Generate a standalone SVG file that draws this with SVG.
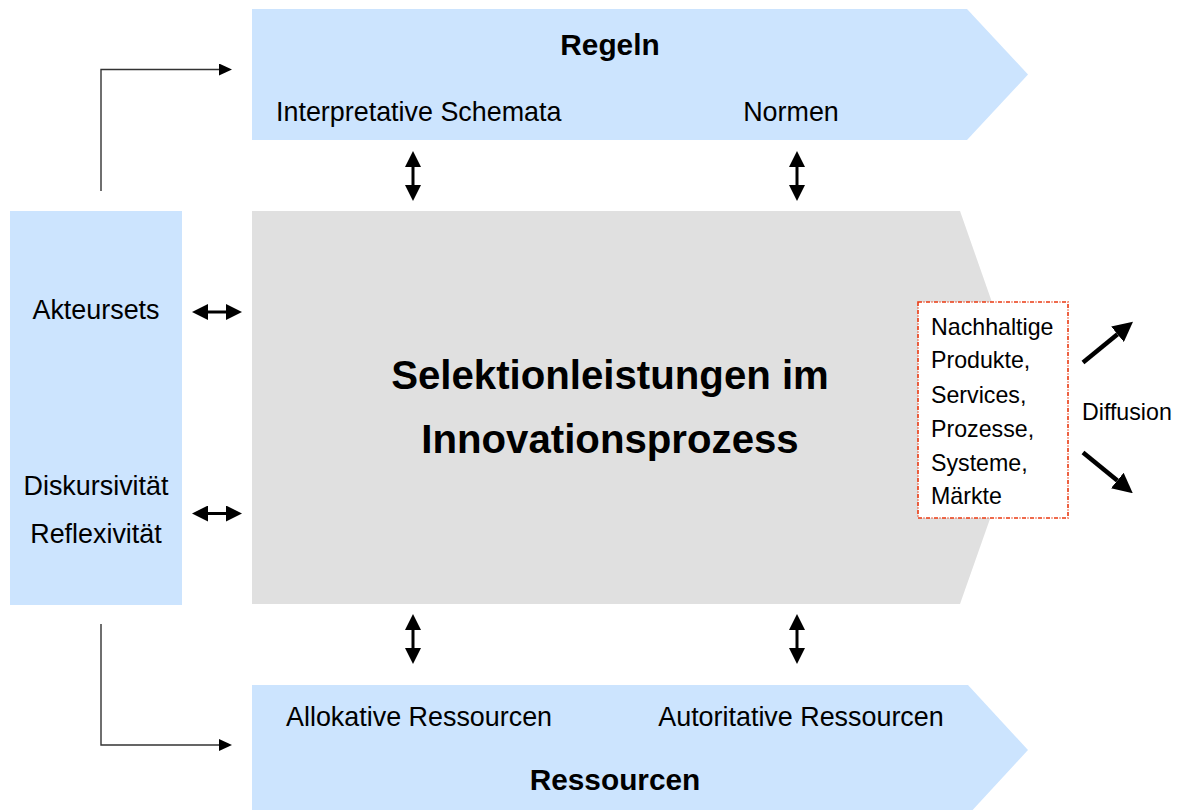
<svg xmlns="http://www.w3.org/2000/svg" width="1180" height="810" viewBox="0 0 1180 810">
  <style>
    .blue { fill: #cce4fe; }
    .grey { fill: #e0e0e0; }
    text { font-family: "Liberation Sans", Arial, sans-serif; fill: #000; }
    .lbl { font-size: 26.9px; }
    .head { font-size: 29.8px; font-weight: bold; }
    .title { font-size: 40.2px; font-weight: bold; }
    .small { font-size: 23.2px; }
    .dbl { stroke: #000; stroke-width: 3; fill: none; }
    .elbow { stroke: #333; stroke-width: 1.4; fill: none; }
    .diff { stroke: #000; stroke-width: 4.5; fill: none; }
  </style>
  <defs>
    <marker id="tri" markerUnits="userSpaceOnUse" markerWidth="16" markerHeight="16" refX="0" refY="8" orient="auto-start-reverse" viewBox="0 0 16 16">
      <path d="M0,0 L16,8 L0,16 z" fill="#000"/>
    </marker>
    <marker id="tri-s" markerUnits="userSpaceOnUse" markerWidth="13" markerHeight="12" refX="0" refY="6" orient="auto" viewBox="0 0 13 12">
      <path d="M0,0 L13,6 L0,12 z" fill="#000"/>
    </marker>
    <marker id="tri-l" markerUnits="userSpaceOnUse" markerWidth="20" markerHeight="20" refX="0" refY="10" orient="auto" viewBox="0 0 20 20">
      <path d="M0,0 L20,10 L0,20 z" fill="#000"/>
    </marker>
  </defs>

  <rect width="1180" height="810" fill="#fff"/>

  <!-- Rules band -->
  <g id="regeln">
    <polygon class="blue" points="252,9 967,9 1028,74.5 967,140 252,140"/>
    <text class="head" x="610" y="55" text-anchor="middle">Regeln</text>
    <text class="lbl" x="276" y="121">Interpretative Schemata</text>
    <text class="lbl" x="791" y="121" text-anchor="middle">Normen</text>
  </g>

  <!-- Actors column -->
  <g id="akteure">
    <rect class="blue" x="10" y="211" width="172" height="394"/>
    <text class="lbl" x="96" y="319" text-anchor="middle">Akteursets</text>
    <text class="lbl" x="96" y="495" text-anchor="middle">Diskursivität</text>
    <text class="lbl" x="96" y="543" text-anchor="middle">Reflexivität</text>
  </g>

  <!-- Central process -->
  <g id="selektion">
    <polygon class="grey" points="252,211 960,211 1029,408 960,604 252,604"/>
    <text class="title" x="610" y="389" text-anchor="middle">Selektionleistungen im</text>
    <text class="title" x="610" y="453" text-anchor="middle">Innovationsprozess</text>
  </g>

  <!-- Outcomes -->
  <g id="ergebnisse">
    <rect x="918" y="302" width="150" height="216" fill="#fff" stroke="#ea3a12" stroke-width="1.6" stroke-dasharray="4,1.5,1,1.5"/>
    <text class="small" x="931" y="335">Nachhaltige</text>
    <text class="small" x="931" y="368">Produkte,</text>
    <text class="small" x="931" y="403">Services,</text>
    <text class="small" x="931" y="437">Prozesse,</text>
    <text class="small" x="931" y="471">Systeme,</text>
    <text class="small" x="931" y="504">Märkte</text>
  </g>

  <g id="diffusion">
    <text class="small" x="1082" y="420">Diffusion</text>
  </g>

  <!-- Resources band -->
  <g id="ressourcen">
    <polygon class="blue" points="252,685 968,685 1028,750 968,815 252,815"/>
    <text class="lbl" x="286" y="726">Allokative Ressourcen</text>
    <text class="lbl" x="801" y="726" text-anchor="middle">Autoritative Ressourcen</text>
    <text class="head" x="615" y="790" text-anchor="middle">Ressourcen</text>
  </g>

  <!-- Connectors -->
  <g id="connectors">
    <!-- actors to rules / resources -->
    <path class="elbow" d="M101,191 V69.5 H219" marker-end="url(#tri-s)"/>
    <path class="elbow" d="M101,624 V745 H219" marker-end="url(#tri-s)"/>

    <!-- rules <-> process -->
    <line class="dbl" x1="413" y1="167" x2="413" y2="185" marker-start="url(#tri)" marker-end="url(#tri)"/>
    <line class="dbl" x1="797" y1="167" x2="797" y2="185" marker-start="url(#tri)" marker-end="url(#tri)"/>

    <!-- process <-> resources -->
    <line class="dbl" x1="413" y1="630" x2="413" y2="648" marker-start="url(#tri)" marker-end="url(#tri)"/>
    <line class="dbl" x1="797" y1="630" x2="797" y2="648" marker-start="url(#tri)" marker-end="url(#tri)"/>

    <!-- actors <-> process -->
    <line class="dbl" x1="208" y1="312" x2="226" y2="312" marker-start="url(#tri)" marker-end="url(#tri)"/>
    <line class="dbl" x1="208" y1="513.5" x2="226" y2="513.5" marker-start="url(#tri)" marker-end="url(#tri)"/>

    <!-- diffusion -->
    <line class="diff" x1="1083" y1="362.5" x2="1117.5" y2="334.3" marker-end="url(#tri-l)"/>
    <line class="diff" x1="1083" y1="452.5" x2="1117.3" y2="480.5" marker-end="url(#tri-l)"/>
  </g>
</svg>
